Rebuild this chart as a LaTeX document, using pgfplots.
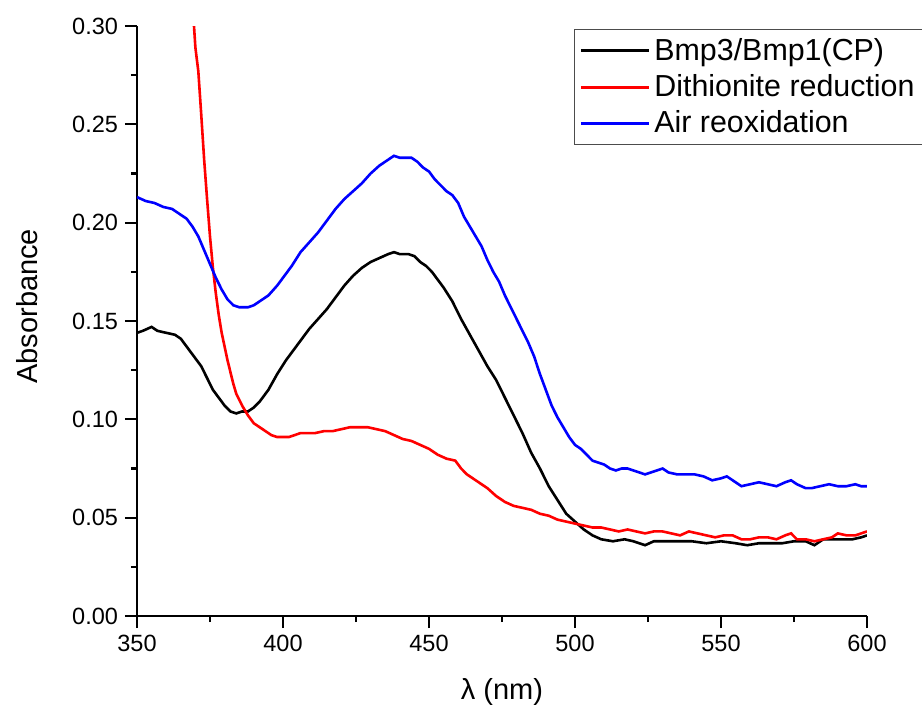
\documentclass[border=0pt]{standalone}
\usepackage{fontspec}
\setmainfont{Liberation Sans}
\usepackage{pgfplots}
\pgfplotsset{compat=1.18}
\usepackage{pgfplotstable}

% spectra: wavelength (nm), absorbance
\pgfplotstableread{
x y
350 0.144
352 0.145
355 0.147
357 0.145
360 0.144
363 0.143
365 0.141
367 0.137
370 0.131
372 0.127
374 0.121
376 0.115
378 0.111
380 0.107
382 0.104
384 0.103
386 0.104
388 0.104
390 0.106
392 0.109
395 0.115
398 0.123
401 0.130
404 0.136
406 0.140
409 0.146
412 0.151
415 0.156
418 0.162
421 0.168
424 0.173
427 0.177
430 0.180
433 0.182
436 0.184
438 0.185
440 0.184
443 0.184
445 0.183
447 0.180
449 0.178
451 0.175
453 0.171
455 0.167
458 0.160
461 0.151
464 0.143
467 0.135
470 0.127
473 0.120
476 0.111
479 0.102
482 0.093
485 0.083
488 0.075
491 0.066
494 0.059
497 0.052
500 0.048
503 0.044
506 0.041
509 0.039
513 0.038
517 0.039
520 0.038
524 0.036
527 0.038
530 0.038
535 0.038
540 0.038
545 0.037
550 0.038
555 0.037
559 0.036
563 0.037
567 0.037
571 0.037
575 0.038
579 0.038
582 0.036
585 0.039
590 0.039
595 0.039
598 0.040
600 0.041
}\cpdata

\pgfplotstableread{
x y
369.3 0.305
370 0.289
371 0.277
372 0.255
373 0.232
374 0.212
375 0.193
376 0.177
377 0.164
378 0.153
379 0.144
380 0.137
381 0.130
382 0.124
383 0.118
384 0.113
385 0.110
386 0.107
388 0.102
390 0.098
392 0.096
394 0.094
396 0.092
398 0.091
400 0.091
402 0.091
404 0.092
406 0.093
408 0.093
411 0.093
414 0.094
417 0.094
420 0.095
423 0.096
426 0.096
429 0.096
432 0.095
435 0.094
438 0.092
441 0.090
444 0.089
447 0.087
450 0.085
453 0.082
456 0.080
459 0.079
461 0.075
463 0.072
465 0.070
467 0.068
470 0.065
473 0.061
476 0.058
479 0.056
482 0.055
485 0.054
488 0.052
491 0.051
494 0.049
497 0.048
500 0.047
503 0.046
506 0.045
509 0.045
512 0.044
515 0.043
518 0.044
521 0.043
524 0.042
527 0.043
530 0.043
533 0.042
536 0.041
539 0.043
542 0.042
545 0.041
548 0.040
551 0.041
554 0.041
557 0.039
560 0.039
563 0.040
566 0.040
569 0.039
572 0.041
574 0.042
576 0.039
579 0.039
582 0.038
585 0.039
588 0.040
590 0.042
593 0.041
596 0.041
598 0.042
600 0.043
}\reddata

\pgfplotstableread{
x y
350 0.213
353 0.211
356 0.210
359 0.208
362 0.207
365 0.204
367 0.202
369 0.198
371 0.193
373 0.186
375 0.179
377 0.172
379 0.166
381 0.161
383 0.158
385 0.157
388 0.157
390 0.158
392 0.160
395 0.163
398 0.168
400 0.172
403 0.178
406 0.185
409 0.190
412 0.195
415 0.201
418 0.207
421 0.212
424 0.216
427 0.220
430 0.225
433 0.229
436 0.232
438 0.234
440 0.233
442 0.233
444 0.233
446 0.231
448 0.228
450 0.226
452 0.222
454 0.219
456 0.216
458 0.214
460 0.210
462 0.203
464 0.198
466 0.193
468 0.188
470 0.181
472 0.175
474 0.170
476 0.163
478 0.157
480 0.151
482 0.145
484 0.139
486 0.132
488 0.123
490 0.115
492 0.107
494 0.101
496 0.096
498 0.091
500 0.087
502 0.085
504 0.082
506 0.079
508 0.078
510 0.077
512 0.075
514 0.074
516 0.075
518 0.075
520 0.074
522 0.073
524 0.072
526 0.073
528 0.074
530 0.075
532 0.073
535 0.072
538 0.072
541 0.072
544 0.071
547 0.069
550 0.070
552 0.071
554 0.069
557 0.066
560 0.067
563 0.068
566 0.067
569 0.066
572 0.068
574 0.069
576 0.067
579 0.065
581 0.065
584 0.066
587 0.067
590 0.066
593 0.066
596 0.067
598 0.066
600 0.066
}\airdata

\begin{document}
\begin{tikzpicture}
\useasboundingbox (-68.5pt,-49pt) rectangle (392.5pt,308pt);
\begin{axis}[
  scale only axis,
  width=365pt, height=295pt,
  xmin=350, xmax=600, ymin=0, ymax=0.30,
  axis x line=bottom, axis y line=left,
  axis line style={-, line width=1.1pt},
  xtick={350,400,...,600},
  ytick={0,0.05,...,0.31},
  minor x tick num=1, minor y tick num=1,
  tick align=outside,
  major tick length=6pt, minor tick length=3pt,
  tick style={line width=1.1pt, black},
  /pgf/number format/assume math mode=true,
  yticklabel style={/pgf/number format/.cd, fixed, fixed zerofill, precision=2},
  xticklabel style={/pgf/number format/.cd, set thousands separator={}},
  tick label style={font=\fontsize{11.75}{14}\selectfont},
  xlabel={λ (nm)},
  ylabel={Absorbance},
  label style={font=\fontsize{14.5}{17}\selectfont},
  xlabel style={at={(axis description cs:0.5,-0.129)}, anchor=center},
  ylabel style={at={(axis description cs:-0.1507,0.525)}, anchor=center},
  legend style={at={(axis description cs:0.5986,0.995)}, anchor=north west,
    draw=black!70, font=\fontsize{15.2}{18}\selectfont,
    row sep=1.6pt, inner sep=2.5pt},
  legend cell align=left,
  legend image code/.code={\draw[#1, line width=1.5pt] (0pt,0pt) -- (34pt,0pt);},
  every axis plot/.append style={line width=1.3pt},
]
  \addplot[black] table[x=x, y=y] {\cpdata};
  \addlegendentry{Bmp3/Bmp1(CP)}
  \addplot[red] table[x=x, y=y] {\reddata};
  \addlegendentry{Dithionite reduction}
  \addplot[blue] table[x=x, y=y] {\airdata};
  \addlegendentry{Air reoxidation}
\end{axis}
\end{tikzpicture}
\end{document}
